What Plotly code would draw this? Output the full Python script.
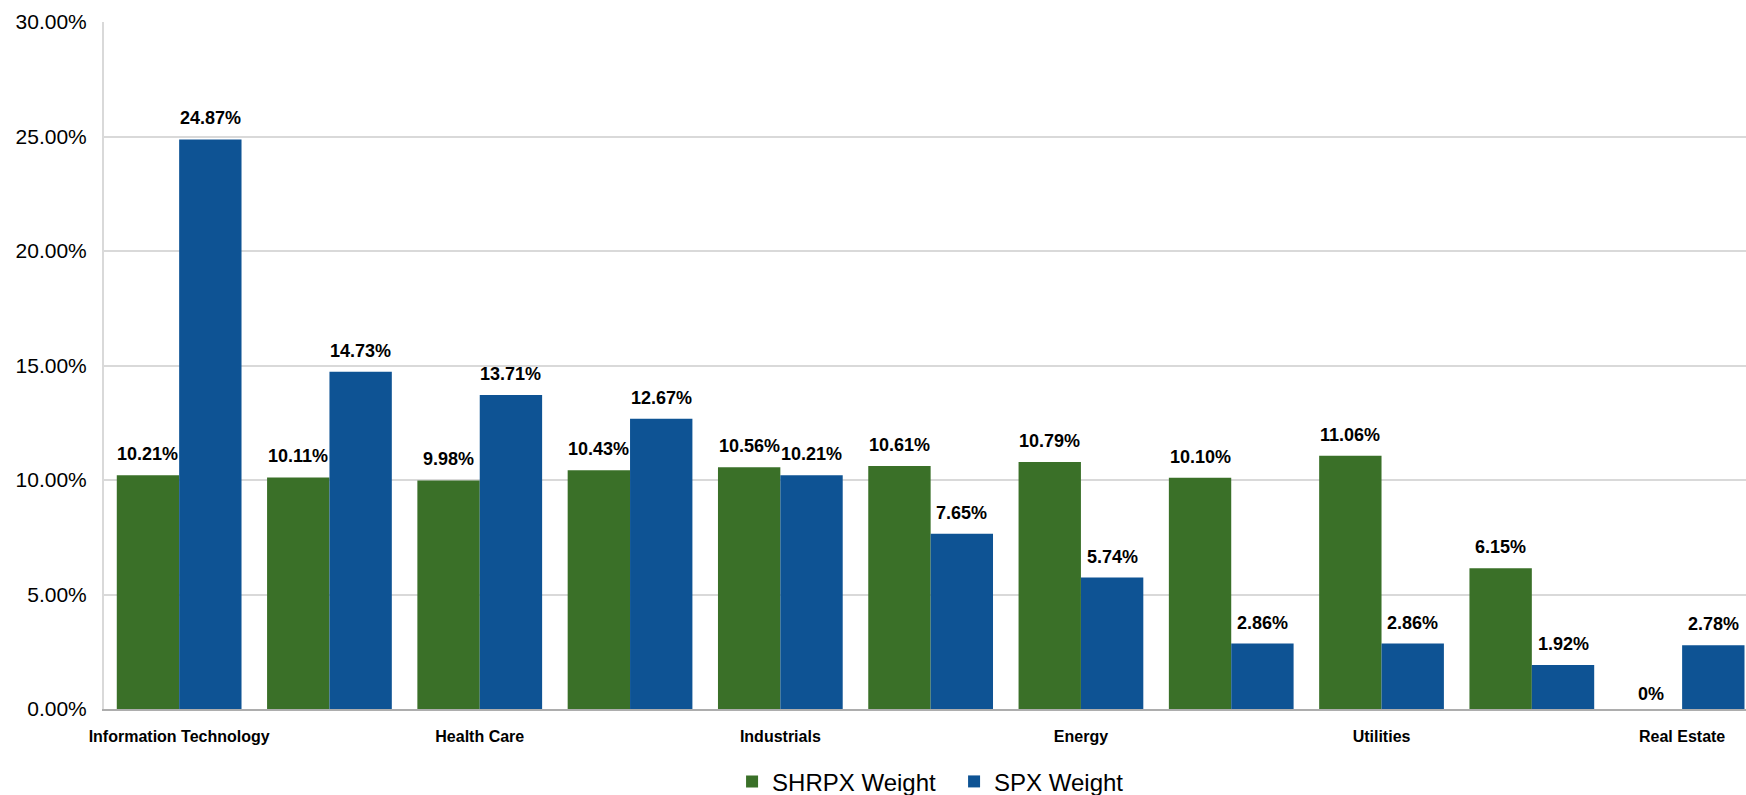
import plotly.graph_objects as go

categories = ["Information Technology", "Financials", "Health Care", "Consumer Discretionary",
              "Industrials", "Consumer Staples", "Energy", "Materials", "Utilities",
              "Telecommunication Services", "Real Estate"]
shrpx = [10.21, 10.11, 9.98, 10.43, 10.56, 10.61, 10.79, 10.10, 11.06, 6.15, 0.0]
spx = [24.87, 14.73, 13.71, 12.67, 10.21, 7.65, 5.74, 2.86, 2.86, 1.92, 2.78]
shown_ticks = ["Information Technology", "Health Care", "Industrials", "Energy", "Utilities", "Real Estate"]
y_ticks = [0, 5, 10, 15, 20, 25, 30]

GREEN = "#3A7028"
BLUE = "#0E5394"
FONT = "Liberation Sans, Arial, sans-serif"

W, H = 1746, 795
ML, MR, MT, MB = 104, 0, 22, 86
BARGAP = 0.17
X_RANGE = [-0.5, 10.425]

def lab(v):
    return f"{v:.2f}%" if v else "0%"

fig = go.Figure()
series = [("SHRPX Weight", shrpx, GREEN), ("SPX Weight", spx, BLUE)]
for name, vals, col in series:
    fig.add_trace(go.Bar(
        x=categories, y=vals, name=name, marker=dict(color=col, line=dict(width=0)),
        hoverinfo="x+y+name",
    ))

# data labels placed above each bar (offset = half the bar slot width in px)
cat_px = (W - ML - MR) / (X_RANGE[1] - X_RANGE[0])
bar_px = cat_px * (1 - BARGAP) / len(series)
for si, (name, vals, col) in enumerate(series):
    shift = (si - (len(series) - 1) / 2) * bar_px
    for c, v in zip(categories, vals):
        fig.add_annotation(
            x=c, y=v, xref="x", yref="y", text=lab(v), showarrow=False,
            xshift=shift, yshift=21 if v else 15, yanchor="middle", xanchor="center",
            font=dict(family=FONT, size=18, color="#000000", weight="bold"),
        )

fig.update_layout(
    width=W, height=H,
    margin=dict(l=ML, r=MR, t=MT, b=MB, autoexpand=False),
    barmode="group", bargap=BARGAP, bargroupgap=0,
    plot_bgcolor="white", paper_bgcolor="white",
    font=dict(family=FONT, color="#000000"),
    showlegend=True,
    legend=dict(orientation="h", x=0.3825, xanchor="left", y=-0.106, yanchor="middle",
                entrywidth=177, entrywidthmode="pixels",
                font=dict(family=FONT, size=24, color="#000000"), traceorder="normal"),
)
fig.update_xaxes(
    type="category", categoryorder="array", categoryarray=categories,
    range=X_RANGE, automargin=False,
    tickmode="array", tickvals=shown_ticks, ticktext=shown_ticks,
    tickfont=dict(family=FONT, size=16, color="#000000", weight="bold"),
    showline=True, linecolor="#ADADAD", linewidth=2, showgrid=False,
    ticks="", ticklabelstandoff=12, tickangle=0, zeroline=False,
)
fig.update_yaxes(
    range=[0, 30], tickmode="array", tickvals=y_ticks,
    ticktext=[f"{v:.2f}%" for v in y_ticks], automargin=False,
    tickfont=dict(family=FONT, size=21, color="#000000"),
    showgrid=True, gridcolor="#D9D9D9", gridwidth=1.5,
    showline=True, linecolor="#D9D9D9", linewidth=2, mirror=False,
    zeroline=False, ticks="", ticklabelstandoff=11,
)

fig.write_html("out.html")
